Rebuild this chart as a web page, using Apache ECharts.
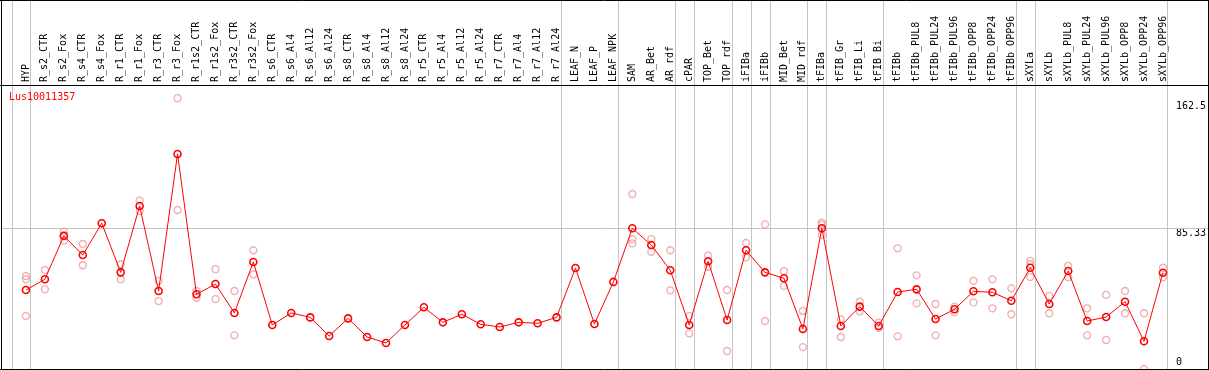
<!DOCTYPE html>
<html><head><meta charset="utf-8">
<script src="https://cdn.jsdelivr.net/npm/echarts@6/dist/echarts.min.js"></script>
<style>html,body{margin:0;padding:0;background:#fff;overflow:hidden}#c{width:1209px;height:370px}</style>
</head><body><div id="c"></div>
<script>
const geneName = 'Lus10011357';
const categories = ['HYP','R_s2_CTR','R_s2_Fox','R_s4_CTR','R_s4_Fox','R_r1_CTR','R_r1_Fox','R_r3_CTR','R_r3_Fox','R_r1s2_CTR','R_r1s2_Fox','R_r3s2_CTR','R_r3s2_Fox','R_s6_CTR','R_s6_Al4','R_s6_Al12','R_s6_Al24','R_s8_CTR','R_s8_Al4','R_s8_Al12','R_s8_Al24','R_r5_CTR','R_r5_Al4','R_r5_Al12','R_r5_Al24','R_r7_CTR','R_r7_Al4','R_r7_Al12','R_r7_Al24','LEAF_N','LEAF_P','LEAF_NPK','SAM','AR_Bet','AR_rdf','cPAR','TOP_Bet','TOP_rdf','iFIBa','iFIBb','MID_Bet','MID_rdf','tFIBa','tFIB_Gr','tFIB_Li','tFIB_Bi','tFIBb','tFIBb_PUL8','tFIBb_PUL24','tFIBb_PUL96','tFIBb_OPP8','tFIBb_OPP24','tFIBb_OPP96','sXYLa','sXYLb','sXYLb_PUL8','sXYLb_PUL24','sXYLb_PUL96','sXYLb_OPP8','sXYLb_OPP24','sXYLb_OPP96'];
const means = [47.9,54.4,80.7,69.1,88.4,58.6,98.8,47.3,130.4,45.3,51.5,34.0,64.9,26.7,34.0,31.3,20.0,30.7,19.4,15.8,26.7,37.4,28.3,33.2,27.1,25.5,28.3,27.7,31.3,61.2,27.3,52.8,85.3,75.2,59.9,26.7,65.3,29.7,72.0,58.6,55.0,24.3,85.3,26.1,37.8,26.1,46.7,48.3,30.3,36.2,47.1,46.5,41.4,61.4,39.4,59.4,29.1,31.5,40.8,16.8,58.4];
const rep1 = [56.4,60.0,83.3,75.8,null,63.5,102.1,53.4,164.2,47.3,60.5,47.3,72.0,null,null,null,null,null,null,null,null,null,null,null,null,null,null,null,null,null,null,null,106.1,78.8,72.0,32.1,68.7,47.9,76.4,87.7,59.4,35.2,88.7,30.1,40.8,28.1,73.2,56.8,39.4,37.8,53.4,54.4,48.9,65.5,44.3,62.5,36.8,44.9,47.3,33.8,61.4];
const rep2 = [54.4,48.3,77.8,62.9,null,54.4,95.8,41.2,96.4,43.2,42.4,20.4,57.4,null,null,null,null,null,null,null,null,null,null,null,null,null,null,null,null,null,null,null,78.7,71.1,47.7,21.6,62.0,10.9,67.7,29.1,50.3,13.3,81.3,19.4,35.0,25.0,19.8,39.8,20.4,34.5,40.4,36.8,33.2,55.8,33.8,55.6,20.4,17.6,33.8,0.0,55.6];
const rep3 = [32.1,null,81.0,null,null,null,null,null,null,null,null,null,null,null,null,null,null,null,null,null,null,null,null,null,null,null,null,null,null,null,null,null,76.2,null,null,null,null,null,null,null,null,null,87.5,null,null,null,null,null,null,null,null,null,null,63.5,null,null,null,null,null,null,null];
const groupStarts = ['HYP','R_s2_CTR','LEAF_N','SAM','cPAR','TOP_Bet','iFIBa','iFIBb','MID_Bet','tFIBa','tFIB_Gr','tFIBb','sXYLa','sXYLb'];
const yTickValues = [0, 85.33, 162.5];
const yTickLabels = ['0', '85.33', '162.5'];

const MONO = 'DejaVu Sans Mono';
const meanData = means.map((v, i) => [i + 1, v]);
const repData = [];
[rep1, rep2, rep3].forEach(arr => arr.forEach((v, i) => { if (v != null) repData.push([i + 1, v]); }));

const chart = echarts.init(document.getElementById('c'), null, {renderer: 'canvas'});
const option = {
  animation: false,
  backgroundColor: '#fff',
  grid: {left: 7, top: 85, width: 1178, height: 284},
  xAxis: {
    type: 'value', position: 'top', min: 0, max: 62, interval: 1,
    axisLine: {show: false}, axisTick: {show: false}, splitLine: {show: false},
    axisLabel: {
      rotate: 90, margin: 3, color: '#000', fontFamily: MONO, fontSize: 10,
      formatter: v => categories[v - 1] || ''
    }
  },
  yAxis: [{
    type: 'value', min: 0, max: 172.2, position: 'right', offset: -6,
    axisLine: {show: false}, axisTick: {show: false}, splitLine: {show: false},
    axisLabel: {
      customValues: yTickValues.slice(1), margin: 0, align: 'left', verticalAlign: 'top',
      color: '#000', fontFamily: MONO, fontSize: 10,
      formatter: v => yTickLabels[yTickValues.indexOf(v)]
    }
  }, {
    type: 'value', min: 0, max: 172.2, position: 'right', offset: -6,
    axisLine: {show: false}, axisTick: {show: false}, splitLine: {show: false},
    axisLabel: {
      customValues: [yTickValues[0]], margin: 0, align: 'left', verticalAlign: 'bottom',
      padding: [0, 0, 2, 0],
      color: '#000', fontFamily: MONO, fontSize: 10,
      formatter: v => yTickLabels[yTickValues.indexOf(v)]
    }
  }],
  series: [{
    type: 'scatter', data: repData, symbol: 'circle', symbolSize: 7, z: 2,
    itemStyle: {color: 'rgba(0,0,0,0)', borderColor: '#ec9a9a', borderWidth: 1.3},
    silent: true
  }, {
    type: 'line', data: meanData, symbol: 'circle', symbolSize: 7, z: 3,
    lineStyle: {color: '#ff0000', width: 1},
    itemStyle: {color: 'rgba(0,0,0,0)', borderColor: '#ff0000', borderWidth: 1.6},
    silent: true
  }]
};
chart.setOption(option);

// structural lines placed via the chart's own scales
const gray = '#c4c4c4';
const graphics = [];
const W = 1209, BOTTOM = 369;
groupStarts.concat(['__end']).forEach(name => {
  const idx = name === '__end' ? categories.length + 1 : categories.indexOf(name) + 1;
  const x = Math.round(chart.convertToPixel({xAxisIndex: 0}, idx - 0.76)) + 0.5;
  graphics.push({type: 'line', shape: {x1: x, y1: 0, x2: x, y2: BOTTOM}, style: {stroke: gray, lineWidth: 1}, z: 1});
});
const gy = Math.round(chart.convertToPixel({yAxisIndex: 0}, yTickValues[1])) + 0.5;
graphics.push({type: 'line', shape: {x1: 1, y1: gy, x2: W - 1, y2: gy}, style: {stroke: gray, lineWidth: 1}, z: 1});
// frame
graphics.push({type: 'line', shape: {x1: 0, y1: 0.5, x2: W, y2: 0.5}, style: {stroke: '#000', lineWidth: 1}, z: 10});
graphics.push({type: 'line', shape: {x1: 0, y1: 85.5, x2: W, y2: 85.5}, style: {stroke: '#000', lineWidth: 1}, z: 10});
graphics.push({type: 'line', shape: {x1: 0, y1: 369.5, x2: W, y2: 369.5}, style: {stroke: '#000', lineWidth: 1}, z: 10});
graphics.push({type: 'line', shape: {x1: 1.5, y1: 0, x2: 1.5, y2: 370}, style: {stroke: '#000', lineWidth: 1}, z: 10});
graphics.push({type: 'line', shape: {x1: 1208.5, y1: 0, x2: 1208.5, y2: 370}, style: {stroke: '#000', lineWidth: 1}, z: 10});
graphics.push({type: 'text', x: 9, y: 92, style: {text: geneName, fill: '#ff0000', font: '10px "' + MONO + '"'}, z: 10});
chart.setOption({graphic: graphics});
</script>
</body></html>
